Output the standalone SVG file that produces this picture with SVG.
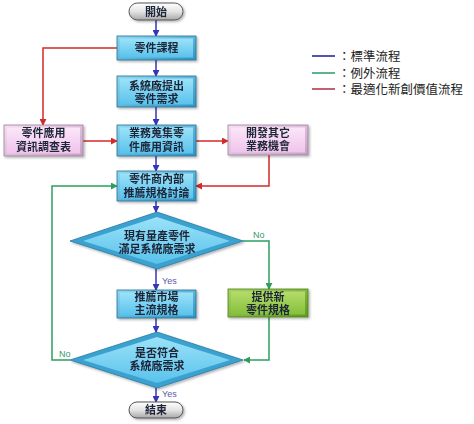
<svg xmlns="http://www.w3.org/2000/svg" width="474" height="424" viewBox="0 0 474 424">
<defs>
<linearGradient id="gCyan" x1="0" y1="0" x2="0" y2="1"><stop offset="0" stop-color="#9be2f8"/><stop offset="1" stop-color="#5ac2ec"/></linearGradient>
<linearGradient id="gCyanEdge" x1="0" y1="0" x2="1" y2="1"><stop offset="0" stop-color="#8fd8f2"/><stop offset="1" stop-color="#2f94c4"/></linearGradient>
<linearGradient id="gPink" x1="0" y1="0" x2="0" y2="1"><stop offset="0" stop-color="#fbe6f8"/><stop offset="1" stop-color="#f0c4ec"/></linearGradient>
<linearGradient id="gPinkEdge" x1="0" y1="0" x2="1" y2="1"><stop offset="0" stop-color="#f6dcf2"/><stop offset="1" stop-color="#c7a0c4"/></linearGradient>
<linearGradient id="gGreen" x1="0" y1="0" x2="0" y2="1"><stop offset="0" stop-color="#b4dc6a"/><stop offset="1" stop-color="#86c03c"/></linearGradient>
<linearGradient id="gGreenEdge" x1="0" y1="0" x2="1" y2="1"><stop offset="0" stop-color="#a8d560"/><stop offset="1" stop-color="#5f9a22"/></linearGradient>
<linearGradient id="gTerm" x1="0" y1="0" x2="0" y2="1"><stop offset="0" stop-color="#ffffff"/><stop offset="0.5" stop-color="#e4e4e4"/><stop offset="1" stop-color="#a8a8a8"/></linearGradient>
<filter id="sh" x="-10%" y="-10%" width="130%" height="140%"><feDropShadow dx="1.5" dy="1.5" stdDeviation="1" flood-color="#000" flood-opacity="0.3"/></filter>
<marker id="aB" viewBox="0 0 8 8" refX="7" refY="4" markerWidth="7" markerHeight="7" markerUnits="userSpaceOnUse" orient="auto"><path d="M0,0L8,4L0,8z" fill="#3535b5"/></marker>
<marker id="aR" viewBox="0 0 8 8" refX="7" refY="4" markerWidth="7" markerHeight="7" markerUnits="userSpaceOnUse" orient="auto"><path d="M0,0L8,4L0,8z" fill="#d42a2a"/></marker>
<marker id="aG" viewBox="0 0 8 8" refX="7" refY="4" markerWidth="7" markerHeight="7" markerUnits="userSpaceOnUse" orient="auto"><path d="M0,0L8,4L0,8z" fill="#2e9e5e"/></marker>
<style>
.t{font-family:"Noto Sans CJK TC","Noto Sans CJK SC",sans-serif;font-size:11px;font-weight:700;fill:#1e2538;text-anchor:middle}
.lbl{font-family:"Liberation Sans",Arial,sans-serif;font-size:9px}
.leg{font-family:"Noto Sans CJK TC",sans-serif;font-size:12.5px;fill:#222}
.cb{fill:url(#gCyanEdge);stroke:#2a6f92;stroke-width:0.8}
.ci{fill:url(#gCyan)}
.pb{fill:url(#gPinkEdge);stroke:#9a8098;stroke-width:0.8}
.pi{fill:url(#gPink)}
.gb{fill:url(#gGreenEdge);stroke:#4f7d1c;stroke-width:0.8}
.gi{fill:url(#gGreen)}
.term{fill:url(#gTerm);stroke:#555;stroke-width:1}
.lb{fill:none;stroke:#3535b5;stroke-width:1.5}
.lr{fill:none;stroke:#d42a2a;stroke-width:1.5}
.lg{fill:none;stroke:#2e9e5e;stroke-width:1.5}
</style>
</defs>
<rect width="474" height="424" fill="#fff"/>

<g id="connectors">
<path class="lb" d="M156,20V36" marker-end="url(#aB)"/>
<path class="lb" d="M156,60V76" marker-end="url(#aB)"/>
<path class="lb" d="M156,107V125" marker-end="url(#aB)"/>
<path class="lb" d="M156,156V171" marker-end="url(#aB)"/>
<path class="lb" d="M156,201V212" marker-end="url(#aB)"/>
<path class="lb" d="M156,269V290" marker-end="url(#aB)"/>
<path class="lb" d="M156,318V332" marker-end="url(#aB)"/>
<path class="lb" d="M156,388V402" marker-end="url(#aB)"/>
<path class="lr" d="M117,48H43V125" marker-end="url(#aR)"/>
<path class="lr" d="M83,141H117" marker-end="url(#aR)"/>
<path class="lr" d="M196,141H228" marker-end="url(#aR)"/>
<path class="lr" d="M269,155V186H196" marker-end="url(#aR)"/>
<path class="lg" d="M243,241H269V289" marker-end="url(#aG)"/>
<path class="lg" d="M269,317V360H244" marker-end="url(#aG)"/>
<path class="lg" d="M70,360H52V186H117" marker-end="url(#aG)"/>
<text class="lbl" x="162" y="284" fill="#5a5aa8">Yes</text>
<text class="lbl" x="162" y="397" fill="#5a5aa8">Yes</text>
<text class="lbl" x="253" y="238" fill="#3a9a6a">No</text>
<text class="lbl" x="59" y="357" fill="#3a9a6a">No</text>
</g>

<g id="start" filter="url(#sh)"><rect class="term" x="129" y="3" width="54" height="17" rx="8.5"/><text class="t" x="156" y="15.5">開始</text></g>

<g id="n1" filter="url(#sh)"><rect class="cb" x="117" y="36" width="79" height="24"/><rect class="ci" x="120" y="38.5" width="73" height="19"/><text class="t" x="156.5" y="52">零件課程</text></g>

<g id="n2" filter="url(#sh)"><rect class="cb" x="117" y="76" width="79" height="31"/><rect class="ci" x="120" y="78.5" width="73" height="26"/><text class="t" x="156.5" y="89.5">系統廠提出</text><text class="t" x="156.5" y="103">零件需求</text></g>

<g id="n3" filter="url(#sh)"><rect class="cb" x="117" y="125" width="79" height="31"/><rect class="ci" x="120" y="127.5" width="73" height="26"/><text class="t" x="156.5" y="137">業務蒐集零</text><text class="t" x="156.5" y="150.5">件應用資訊</text></g>

<g id="n4" filter="url(#sh)"><rect class="pb" x="4" y="125" width="79" height="31"/><rect class="pi" x="7" y="127.5" width="73" height="26"/><text class="t" x="43.5" y="137">零件應用</text><text class="t" x="43.5" y="150.5">資訊調查表</text></g>

<g id="n5" filter="url(#sh)"><rect class="pb" x="228" y="125" width="80" height="30"/><rect class="pi" x="231" y="127.5" width="74" height="25"/><text class="t" x="268" y="136.5">開發其它</text><text class="t" x="268" y="150">業務機會</text></g>

<g id="n6" filter="url(#sh)"><rect class="cb" x="117" y="171" width="79" height="30"/><rect class="ci" x="120" y="173.5" width="73" height="25"/><text class="t" x="156.5" y="183">零件商內部</text><text class="t" x="156.5" y="196.5">推薦規格討論</text></g>

<g id="d1" filter="url(#sh)"><polygon points="157,212 243,241 157,269 70,241" fill="#3aa2d0" stroke="#2a7aa2" stroke-width="0.8"/><polygon points="157,217 230,241 157,264 83,241" fill="url(#gCyan)"/><text class="t" x="157" y="239.5">現有量產零件</text><text class="t" x="157" y="253">滿足系統廠需求</text></g>

<g id="n7" filter="url(#sh)"><rect class="cb" x="117" y="290" width="79" height="28"/><rect class="ci" x="120" y="292.5" width="73" height="23"/><text class="t" x="156.5" y="301">推薦市場</text><text class="t" x="156.5" y="314">主流規格</text></g>

<g id="n8" filter="url(#sh)"><rect class="gb" x="228" y="289" width="80" height="28"/><rect class="gi" x="231" y="291.5" width="74" height="23"/><text class="t" x="268" y="300.5">提供新</text><text class="t" x="268" y="313.5">零件規格</text></g>

<g id="d2" filter="url(#sh)"><polygon points="157,332 243,360 157,388 70,360" fill="#3aa2d0" stroke="#2a7aa2" stroke-width="0.8"/><polygon points="157,337 230,360 157,383 83,360" fill="url(#gCyan)"/><text class="t" x="157" y="357">是否符合</text><text class="t" x="157" y="370">系統廠需求</text></g>

<g id="end" filter="url(#sh)"><rect class="term" x="129" y="402" width="54" height="16" rx="8"/><text class="t" x="156" y="414">結束</text></g>

<g id="legend">
<line x1="312" y1="56" x2="335" y2="56" stroke="#1c1c8c" stroke-width="1.5"/>
<line x1="312" y1="73" x2="335" y2="73" stroke="#2a9a6a" stroke-width="1.5"/>
<line x1="312" y1="89" x2="335" y2="89" stroke="#a83040" stroke-width="1.5"/>
<text class="leg" x="338" y="60.5">：標準流程</text>
<text class="leg" x="338" y="77.5">：例外流程</text>
<text class="leg" x="338" y="93.5">：最適化新創價值流程</text>
</g>
</svg>
